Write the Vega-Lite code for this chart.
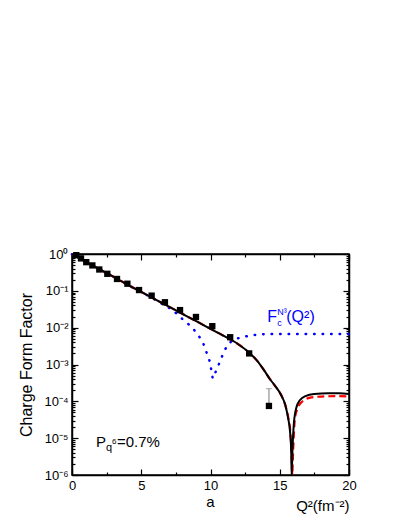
{
  "$schema": "https://vega.github.io/schema/vega-lite/v6.json",
  "width": 277,
  "height": 221,
  "autosize": {"type": "none"},
  "padding": {"left": 72, "top": 254, "right": 58, "bottom": 52},
  "title": {"text": "a", "orient": "bottom", "anchor": "middle", "font": "Liberation Sans", "fontSize": 15, "fontWeight": "normal", "color": "black", "offset": -18},
  "datasets": {
    "black": [
      {"x": 0, "y": 0.977}, {"x": 0.5, "y": 0.776}, {"x": 1, "y": 0.617}, {"x": 2, "y": 0.38}, {"x": 3, "y": 0.24},
      {"x": 4, "y": 0.148}, {"x": 5, "y": 0.0933}, {"x": 6, "y": 0.0589}, {"x": 7, "y": 0.0372}, {"x": 8, "y": 0.0234},
      {"x": 9, "y": 0.0148}, {"x": 10, "y": 0.00933}, {"x": 11, "y": 0.00589}, {"x": 12, "y": 0.00355}, {"x": 12.8, "y": 0.00209},
      {"x": 13.3, "y": 0.00135}, {"x": 13.8, "y": 0.000759}, {"x": 14.3, "y": 0.000398}, {"x": 14.6, "y": 0.000282},
      {"x": 15.1, "y": 0.000148}, {"x": 15.4, "y": 0.0000794}, {"x": 15.6, "y": 0.0000355}, {"x": 15.75, "y": 0.0000141},
      {"x": 15.83, "y": 0.00000398}, {"x": 15.86, "y": 0.00000001}, {"x": 15.92, "y": 0.000005}, {"x": 16.02, "y": 0.0000251},
      {"x": 16.2, "y": 0.0000676}, {"x": 16.45, "y": 0.000107}, {"x": 16.9, "y": 0.000141}, {"x": 17.5, "y": 0.000158},
      {"x": 18.5, "y": 0.000166}, {"x": 19.3, "y": 0.000166}, {"x": 20, "y": 0.000158}
    ],
    "red": [
      {"x": 0, "y": 0.977}, {"x": 1, "y": 0.617}, {"x": 2, "y": 0.38}, {"x": 3, "y": 0.24}, {"x": 4, "y": 0.148},
      {"x": 5, "y": 0.0933}, {"x": 6, "y": 0.0589}, {"x": 7, "y": 0.0372}, {"x": 8, "y": 0.0234}, {"x": 9, "y": 0.0148},
      {"x": 10, "y": 0.00933}, {"x": 11, "y": 0.00589}, {"x": 12, "y": 0.00355}, {"x": 12.8, "y": 0.00209},
      {"x": 13.3, "y": 0.00135}, {"x": 13.8, "y": 0.000759}, {"x": 14.3, "y": 0.000398}, {"x": 14.6, "y": 0.000282},
      {"x": 15.1, "y": 0.000148}, {"x": 15.4, "y": 0.0000794}, {"x": 15.62, "y": 0.0000355}, {"x": 15.78, "y": 0.0000126},
      {"x": 15.87, "y": 0.0000025}, {"x": 15.9, "y": 0.00000001}, {"x": 15.97, "y": 0.000005}, {"x": 16.1, "y": 0.0000355},
      {"x": 16.3, "y": 0.000066}, {"x": 16.5, "y": 0.000089}, {"x": 17.2, "y": 0.000126}, {"x": 18, "y": 0.000135},
      {"x": 19, "y": 0.000138}, {"x": 20, "y": 0.000135}
    ],
    "blue": [
      {"x": 0, "y": 0.977}, {"x": 1, "y": 0.617}, {"x": 2, "y": 0.38}, {"x": 3, "y": 0.24}, {"x": 4, "y": 0.148},
      {"x": 5, "y": 0.0933}, {"x": 6, "y": 0.0575}, {"x": 7, "y": 0.0347}, {"x": 7.5, "y": 0.0251}, {"x": 8.04, "y": 0.0162},
      {"x": 8.64, "y": 0.0105}, {"x": 9.12, "y": 0.00631}, {"x": 9.48, "y": 0.00372}, {"x": 9.72, "y": 0.00209},
      {"x": 9.96, "y": 0.00117}, {"x": 10.16, "y": 0.000417}, {"x": 10.45, "y": 0.000741}, {"x": 10.73, "y": 0.00132},
      {"x": 11.0, "y": 0.0024}, {"x": 11.34, "y": 0.0038}, {"x": 11.77, "y": 0.0049}, {"x": 12.37, "y": 0.00562},
      {"x": 13.09, "y": 0.00631}, {"x": 14.06, "y": 0.00676}, {"x": 15.5, "y": 0.00676}, {"x": 17, "y": 0.00676},
      {"x": 20, "y": 0.00676}
    ],
    "points": [
      {"x": 0.31, "y": 0.93}, {"x": 0.65, "y": 0.76}, {"x": 1.03, "y": 0.6}, {"x": 1.47, "y": 0.49}, {"x": 1.97, "y": 0.38},
      {"x": 2.55, "y": 0.29}, {"x": 3.25, "y": 0.21}, {"x": 4.0, "y": 0.156}, {"x": 4.84, "y": 0.105}, {"x": 5.75, "y": 0.074},
      {"x": 6.71, "y": 0.049}, {"x": 7.8, "y": 0.03}, {"x": 8.95, "y": 0.0195}, {"x": 10.13, "y": 0.011}, {"x": 11.42, "y": 0.0055},
      {"x": 12.79, "y": 0.002}, {"x": 14.22, "y": 0.000075}
    ],
    "err": [{"x": 14.22, "lo": 0.000075, "hi": 0.000222}],
    "pnote": [{"x": 1.73, "y": 0.0000057}],
    "fnote": [{"x": 14.1, "y": 0.0142}]
  },
  "layer": [
    {
      "data": {"name": "blue"},
      "mark": {"type": "line", "color": "#0000ff", "strokeWidth": 2.5, "strokeDash": [0.5, 8], "strokeCap": "round"},
      "encoding": {
        "x": {"field": "x", "type": "quantitative", "scale": {"domain": [0, 20], "nice": false},
          "axis": {"orient": "bottom", "values": [0, 2.5, 5, 7.5, 10, 12.5, 15, 17.5, 20], "format": "~g",
            "labelExpr": "datum.value % 5 === 0 ? datum.label : ''", "labelFlush": false, "labelOverlap": false,
            "tickSize": {"condition": {"test": "datum.value % 5 === 0", "value": -6}, "value": -3},
            "labelPadding": 10, "title": "Q²(fm⁻²)", "titleAnchor": "end", "titleFontSize": 15, "titlePadding": 3}},
        "y": {"field": "y", "type": "quantitative", "scale": {"type": "log", "domain": [0.000001, 1], "clamp": true, "nice": false},
          "axis": {"orient": "left",
            "values": [0.000001, 0.000002, 0.000003, 0.000004, 0.000005, 0.000006, 0.000007, 0.000008, 0.000009,
              0.00001, 0.00002, 0.00003, 0.00004, 0.00005, 0.00006, 0.00007, 0.00008, 0.00009,
              0.0001, 0.0002, 0.0003, 0.0004, 0.0005, 0.0006, 0.0007, 0.0008, 0.0009,
              0.001, 0.002, 0.003, 0.004, 0.005, 0.006, 0.007, 0.008, 0.009,
              0.01, 0.02, 0.03, 0.04, 0.05, 0.06, 0.07, 0.08, 0.09,
              0.1, 0.2, 0.3, 0.4, 0.5, 0.6, 0.7, 0.8, 0.9, 1],
            "labelExpr": "abs(log(datum.value)/LN10 - round(log(datum.value)/LN10)) < 0.001 ? '10' + ['⁰','⁻¹','⁻²','⁻³','⁻⁴','⁻⁵','⁻⁶'][-round(log(datum.value)/LN10)] : ''",
            "labelOverlap": false, "labelFlush": false,
            "tickSize": {"condition": {"test": "abs(log(datum.value)/LN10 - round(log(datum.value)/LN10)) < 0.001", "value": -6}, "value": -3},
            "labelPadding": 10, "title": "Charge Form Factor", "titleFontSize": 16, "titlePadding": 9}}
      }
    },
    {
      "data": {"name": "red"},
      "mark": {"type": "line", "color": "#ff0000", "strokeWidth": 2.2, "strokeDash": [7, 4], "interpolate": "monotone"},
      "encoding": {
        "x": {"field": "x", "type": "quantitative", "scale": {"domain": [0, 20], "nice": false},
          "axis": {"orient": "top", "values": [0, 2.5, 5, 7.5, 10, 12.5, 15, 17.5, 20], "labels": false, "title": null,
            "tickSize": {"condition": {"test": "datum.value % 5 === 0", "value": -6}, "value": -3}}},
        "y": {"field": "y", "type": "quantitative", "scale": {"type": "log", "domain": [0.000001, 1], "clamp": true, "nice": false},
          "axis": {"orient": "right", "labels": false, "title": null,
            "values": [0.000001, 0.000002, 0.000003, 0.000004, 0.000005, 0.000006, 0.000007, 0.000008, 0.000009,
              0.00001, 0.00002, 0.00003, 0.00004, 0.00005, 0.00006, 0.00007, 0.00008, 0.00009,
              0.0001, 0.0002, 0.0003, 0.0004, 0.0005, 0.0006, 0.0007, 0.0008, 0.0009,
              0.001, 0.002, 0.003, 0.004, 0.005, 0.006, 0.007, 0.008, 0.009,
              0.01, 0.02, 0.03, 0.04, 0.05, 0.06, 0.07, 0.08, 0.09,
              0.1, 0.2, 0.3, 0.4, 0.5, 0.6, 0.7, 0.8, 0.9, 1],
            "tickSize": {"condition": {"test": "abs(log(datum.value)/LN10 - round(log(datum.value)/LN10)) < 0.001", "value": -6}, "value": -3}}}
      }
    },
    {
      "data": {"name": "black"},
      "mark": {"type": "line", "color": "black", "strokeWidth": 2, "interpolate": "monotone"},
      "encoding": {
        "x": {"field": "x", "type": "quantitative", "axis": null},
        "y": {"field": "y", "type": "quantitative", "axis": null}
      }
    },
    {
      "data": {"name": "err"},
      "mark": {"type": "rule", "color": "#999999", "strokeWidth": 1.3},
      "encoding": {
        "x": {"field": "x", "type": "quantitative", "axis": null},
        "y": {"field": "lo", "type": "quantitative", "axis": null},
        "y2": {"field": "hi"}
      }
    },
    {
      "data": {"name": "err"},
      "mark": {"type": "tick", "color": "#999999", "orient": "horizontal", "size": 6, "thickness": 1.2},
      "encoding": {
        "x": {"field": "x", "type": "quantitative", "axis": null},
        "y": {"field": "hi", "type": "quantitative", "axis": null}
      }
    },
    {
      "data": {"name": "points"},
      "mark": {"type": "point", "shape": "square", "filled": true, "color": "black", "opacity": 1, "size": 40},
      "encoding": {
        "x": {"field": "x", "type": "quantitative", "axis": null},
        "y": {"field": "y", "type": "quantitative", "axis": null}
      }
    },
    {
      "data": {"name": "pnote"},
      "mark": {"type": "text", "text": "P", "align": "left", "baseline": "alphabetic", "fontSize": 15, "color": "black"},
      "encoding": {"x": {"field": "x", "type": "quantitative", "axis": null}, "y": {"field": "y", "type": "quantitative", "axis": null}}
    },
    {
      "data": {"name": "pnote"},
      "mark": {"type": "text", "text": "q", "align": "left", "baseline": "alphabetic", "fontSize": 11, "dx": 10, "dy": 4, "color": "black"},
      "encoding": {"x": {"field": "x", "type": "quantitative", "axis": null}, "y": {"field": "y", "type": "quantitative", "axis": null}}
    },
    {
      "data": {"name": "pnote"},
      "mark": {"type": "text", "text": "6", "align": "left", "baseline": "alphabetic", "fontSize": 8, "dx": 16, "dy": -3, "color": "black"},
      "encoding": {"x": {"field": "x", "type": "quantitative", "axis": null}, "y": {"field": "y", "type": "quantitative", "axis": null}}
    },
    {
      "data": {"name": "pnote"},
      "mark": {"type": "text", "text": "=0.7%", "align": "left", "baseline": "alphabetic", "fontSize": 15, "dx": 21, "color": "black"},
      "encoding": {"x": {"field": "x", "type": "quantitative", "axis": null}, "y": {"field": "y", "type": "quantitative", "axis": null}}
    },
    {
      "data": {"name": "fnote"},
      "mark": {"type": "text", "text": "F", "align": "left", "baseline": "alphabetic", "fontSize": 16, "color": "#0000ff"},
      "encoding": {"x": {"field": "x", "type": "quantitative", "axis": null}, "y": {"field": "y", "type": "quantitative", "axis": null}}
    },
    {
      "data": {"name": "fnote"},
      "mark": {"type": "text", "text": "N³", "align": "left", "baseline": "alphabetic", "fontSize": 9, "dx": 10, "dy": -7, "color": "#0000ff"},
      "encoding": {"x": {"field": "x", "type": "quantitative", "axis": null}, "y": {"field": "y", "type": "quantitative", "axis": null}}
    },
    {
      "data": {"name": "fnote"},
      "mark": {"type": "text", "text": "c", "align": "left", "baseline": "alphabetic", "fontSize": 9, "dx": 10, "dy": 4, "color": "#0000ff"},
      "encoding": {"x": {"field": "x", "type": "quantitative", "axis": null}, "y": {"field": "y", "type": "quantitative", "axis": null}}
    },
    {
      "data": {"name": "fnote"},
      "mark": {"type": "text", "text": "(Q²)", "align": "left", "baseline": "alphabetic", "fontSize": 16, "dx": 19, "color": "#0000ff"},
      "encoding": {"x": {"field": "x", "type": "quantitative", "axis": null}, "y": {"field": "y", "type": "quantitative", "axis": null}}
    }
  ],
  "resolve": {"axis": {"x": "independent", "y": "independent"}},
  "config": {
    "font": "Liberation Sans",
    "view": {"stroke": "black", "strokeWidth": 1.5},
    "text": {"font": "Liberation Sans"},
    "axis": {
      "labelFont": "Liberation Sans", "labelFontSize": 13, "labelColor": "black",
      "titleFont": "Liberation Sans", "titleFontWeight": "normal", "titleColor": "black",
      "domainColor": "black", "domainWidth": 1.5, "tickColor": "black", "tickWidth": 1.2, "grid": false
    }
  }
}
